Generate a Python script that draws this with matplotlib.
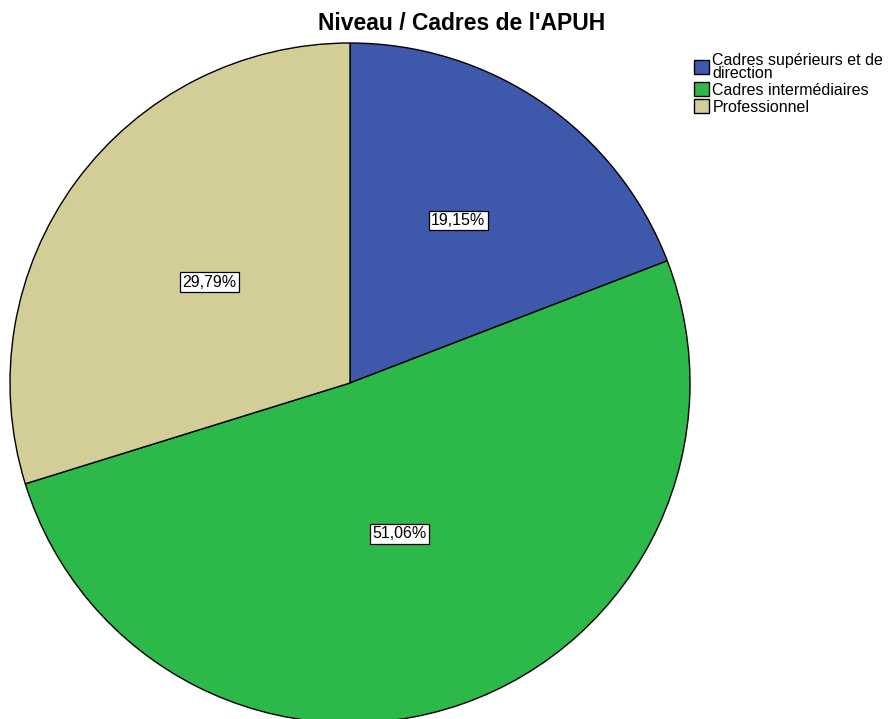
import numpy as np
import matplotlib
matplotlib.use("Agg")
import matplotlib.pyplot as plt

plt.rcParams["font.family"] = ["Liberation Sans", "DejaVu Sans"]

categories = ["Cadres supérieurs et de\ndirection", "Cadres intermédiaires", "Professionnel"]
values = [19.15, 51.06, 29.79]
pct_labels = ["19,15%", "51,06%", "29,79%"]
colors = ["#3e58ac", "#2db84a", "#d3ce97"]
label_dist = [0.58, 0.47, 0.50]

W, H = 891, 719
fig = plt.figure(figsize=(W / 100, H / 100), dpi=100)

# pie centre (350, 383), radius 340 px
cx, cy, r = 350, 383, 340
ax = fig.add_axes([(cx - r) / W, (H - cy - r) / H, 2 * r / W, 2 * r / H])
ax.axis("off")

wedges, _ = ax.pie(values, colors=colors, startangle=90, counterclock=False,
                   radius=1, wedgeprops=dict(edgecolor="black", linewidth=1.0))
ax.set_xlim(-1, 1)
ax.set_ylim(-1, 1)

for w, lab, d in zip(wedges, pct_labels, label_dist):
    ang = np.deg2rad((w.theta1 + w.theta2) / 2)
    ax.text(d * np.cos(ang) - 0.01, d * np.sin(ang), lab, ha="center", va="center",
            fontsize=11.5,
            bbox=dict(boxstyle="square,pad=0.15", facecolor="white",
                      edgecolor="black", linewidth=0.9))

fig.text(462 / W, 1 - 23 / H, "Niveau / Cadres de l'APUH", ha="center",
         va="center", fontsize=16.5, fontweight="bold")

leg = fig.legend(wedges, categories, loc="upper left",
                 bbox_to_anchor=(686 / W, 1 - 45 / H), frameon=False,
                 fontsize=11.5, handlelength=0.95, handleheight=0.95,
                 handletextpad=0.2, labelspacing=0.1, borderpad=0)
for t in leg.get_texts():
    t.set_linespacing(0.8)

fig.savefig("out.png", dpi=100)
